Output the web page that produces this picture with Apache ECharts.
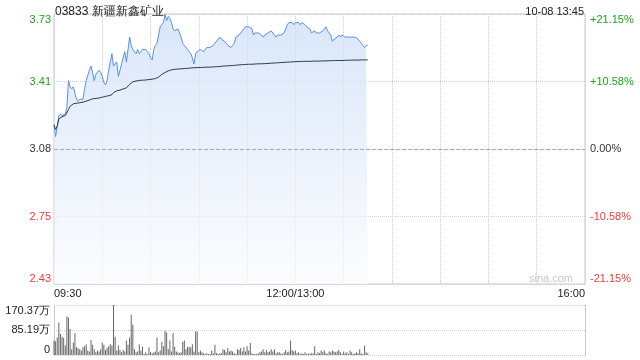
<!DOCTYPE html>
<html>
<head>
<meta charset="utf-8">
<script src="https://cdn.jsdelivr.net/npm/echarts@6/dist/echarts.min.js"></script>
<style>html,body{margin:0;padding:0;background:#fff}#c{width:640px;height:360px}</style>
</head>
<body>
<div id="c"></div>
<script>
const titleText = '03833 新疆新鑫矿业';
const timeText = '10-08 13:45';
const prevClose = 3.08;
const limitPct = 0.2115;
const priceTicks = ['2.43', '2.75', '3.08', '3.41', '3.73'];
const pctTicks = ['-21.15%', '-10.58%', '0.00%', '+10.58%', '+21.15%'];
const timeLabels = ['09:30', '', '', '', '', '12:00/13:00', '', '', '', '', '', '16:00'];
const volTicks = ['0', '85.19万', '170.37万'];
const volMax = 170.37;

const prices = [
3.20,3.14,3.19,3.24,3.25,3.24,3.24,3.25,3.28,3.41,3.38,3.37,3.38,3.35,3.32,3.31,3.32,3.32,3.32,3.37,
3.41,3.41,3.46,3.48,3.45,3.41,3.44,3.45,3.46,3.45,3.43,3.40,3.39,3.41,3.46,3.50,3.54,3.48,3.49,3.50,
3.43,3.46,3.49,3.52,3.55,3.50,3.56,3.62,3.58,3.56,3.55,3.54,3.56,3.54,3.55,3.56,3.56,3.56,3.55,3.54,
3.52,3.51,3.56,3.58,3.59,3.63,3.67,3.68,3.69,3.73,3.70,3.72,3.71,3.69,3.66,3.65,3.65,3.66,3.66,3.62,
3.59,3.58,3.57,3.56,3.55,3.54,3.52,3.49,3.54,3.55,3.55,3.56,3.56,3.55,3.56,3.57,3.57,3.57,3.57,3.58,
3.59,3.59,3.61,3.62,3.61,3.61,3.60,3.59,3.58,3.58,3.57,3.58,3.59,3.62,3.62,3.63,3.64,3.65,3.66,3.67,
3.67,3.67,3.67,3.66,3.63,3.64,3.64,3.64,3.64,3.63,3.62,3.63,3.63,3.64,3.64,3.65,3.65,3.63,3.62,3.63,
3.63,3.63,3.63,3.64,3.66,3.68,3.69,3.69,3.69,3.68,3.69,3.69,3.69,3.68,3.69,3.69,3.68,3.67,3.67,3.66,
3.64,3.64,3.65,3.64,3.64,3.64,3.64,3.65,3.66,3.67,3.65,3.64,3.63,3.60,3.61,3.61,3.62,3.63,3.62,3.63,
3.63,3.62,3.62,3.62,3.62,3.62,3.62,3.62,3.62,3.61,3.60,3.59,3.58,3.57,3.58,3.58
];

const avgPrices = [
3.195,3.175,3.190,3.225,3.232,3.236,3.238,3.241,3.246,3.270,3.286,3.293,3.298,3.300,3.301,3.302,3.303,3.304,3.306,3.308,
3.311,3.313,3.316,3.319,3.322,3.323,3.324,3.325,3.326,3.328,3.330,3.332,3.334,3.336,3.337,3.338,3.342,3.352,3.359,3.361,
3.362,3.364,3.367,3.370,3.372,3.375,3.380,3.392,3.401,3.404,3.406,3.408,3.410,3.411,3.412,3.412,3.413,3.413,3.414,3.415,
3.416,3.417,3.418,3.420,3.423,3.427,3.433,3.440,3.445,3.449,3.453,3.457,3.460,3.462,3.463,3.464,3.465,3.466,3.467,3.467,
3.468,3.468,3.469,3.469,3.470,3.471,3.472,3.472,3.472,3.473,3.473,3.473,3.474,3.474,3.474,3.475,3.475,3.475,3.476,3.476,
3.477,3.477,3.478,3.478,3.479,3.480,3.480,3.481,3.481,3.482,3.482,3.483,3.483,3.484,3.485,3.486,3.486,3.487,3.487,3.488,
3.488,3.489,3.489,3.489,3.490,3.490,3.490,3.491,3.491,3.491,3.492,3.492,3.493,3.493,3.494,3.494,3.495,3.495,3.495,3.496,
3.496,3.497,3.497,3.498,3.498,3.499,3.500,3.500,3.501,3.501,3.502,3.502,3.502,3.502,3.503,3.503,3.503,3.503,3.503,3.503,
3.504,3.504,3.504,3.504,3.504,3.504,3.505,3.505,3.505,3.505,3.506,3.506,3.506,3.506,3.506,3.507,3.507,3.507,3.507,3.507,
3.508,3.508,3.508,3.508,3.508,3.509,3.509,3.509,3.509,3.509,3.509,3.510,3.510,3.510,3.510,3.510
];

const volumes = [
49,47,60,111,72,62,58,32,131,128,89,20,43,74,26,23,20,15,26,30,37,15,12,51,35,20,9,15,12,20,43,35,17,25,
30,37,32,170.37,62,15,32,17,9,17,12,49,35,60,137,103,20,9,12,37,15,28,3,9,3,26,9,6,9,
12,60,9,15,45,30,83,77,20,49,12,74,28,12,9,7,9,45,49,20,28,26,26,37,12,80,80,9,15,9,6,3,6,3,3,15,6,35,6,3,6,
6,20,17,9,24,12,15,12,6,3,20,17,24,12,26,12,30,15,41,6,3,3,3,6,9,12,20,9,17,9,12,
20,12,20,6,9,9,6,3,9,17,9,12,49,17,12,15,6,9,3,6,3,9,3,6,3,6,
6,30,3,9,6,15,
9,15,6,3,12,9,15,12,9,12,17,9,3,12,6,9,3,15,9,3,6,9,6,20,6,3,32,9,6
];

const yMin = +(prevClose * (1 - limitPct)).toFixed(4);
const yMax = +(prevClose * (1 + limitPct)).toFixed(4);
const yInt = (yMax - yMin) / 4;
const tickIdx = v => Math.round((v - yMin) / yInt);
const FONT = 'Arial, "Liberation Sans", sans-serif';
const GREEN = '#1ea51e', RED = '#f03a3a', DARK = '#333';
const colorFor = (v) => { const i = tickIdx(v); return i > 2 ? GREEN : (i < 2 ? RED : DARK); };

const chart = echarts.init(document.getElementById('c'), null, {renderer: 'canvas'});
chart.setOption({
  animation: false,
  backgroundColor: '#fff',
  textStyle: {fontFamily: FONT},
  title: [
    {text: titleText, left: 50, top: 1, textStyle: {fontSize: 12, fontWeight: 'normal', color: '#222', fontFamily: FONT}},
    {text: timeText, right: 51, top: 1, textStyle: {fontSize: 11, fontWeight: 'normal', color: '#222', fontFamily: FONT}}
  ],
  graphic: [
    {type: 'text', right: 67, top: 273, style: {text: 'sina.com', fill: '#c8c8c8', font: '11px ' + FONT}}
  ],
  grid: [
    {left: 54, right: 55, top: 14, height: 270, show: true, borderColor: '#c8c8c8', borderWidth: 1, backgroundColor: 'transparent'},
    {left: 54, right: 55, top: 305, height: 50}
  ],
  xAxis: [
    {type: 'value', gridIndex: 0, min: 0, max: 330, interval: 30,
     axisLine: {show: false}, axisTick: {show: false},
     splitLine: {show: true, lineStyle: {color: '#cfcfcf', type: 'dotted', width: 1}},
     axisLabel: {show: true, margin: 4, fontSize: 11, color: '#222', fontFamily: FONT,
       alignMinLabel: 'left', alignMaxLabel: 'right', showMinLabel: true, showMaxLabel: true,
       formatter: v => timeLabels[Math.round(v / 30)] || ''}},
    {type: 'value', gridIndex: 1, min: 0, max: 330, interval: 30,
     axisLine: {show: false}, axisTick: {show: false}, splitLine: {show: false}, axisLabel: {show: false}}
  ],
  yAxis: [
    {type: 'value', gridIndex: 0, min: yMin, max: yMax, interval: yInt, position: 'left',
     axisLine: {show: false}, axisTick: {show: false},
     splitLine: {show: true, lineStyle: {color: '#cfcfcf', type: 'dotted', width: 1}},
     axisLabel: {margin: 3, fontSize: 11, fontFamily: FONT, showMinLabel: true, showMaxLabel: true,
       verticalAlignMinLabel: 'bottom', verticalAlignMaxLabel: 'top',
       color: colorFor, formatter: v => priceTicks[tickIdx(v)]}},
    {type: 'value', gridIndex: 0, min: yMin, max: yMax, interval: yInt, position: 'right',
     axisLine: {show: false}, axisTick: {show: false}, splitLine: {show: false},
     axisLabel: {margin: 5, fontSize: 11, fontFamily: FONT, showMinLabel: true, showMaxLabel: true,
       verticalAlignMinLabel: 'bottom', verticalAlignMaxLabel: 'top',
       color: colorFor, formatter: v => pctTicks[tickIdx(v)]}},
    {type: 'value', gridIndex: 1, min: 0, max: volMax, interval: volMax / 2, position: 'left',
     axisLine: {show: true, lineStyle: {color: '#c8c8c8'}}, axisTick: {show: false},
     splitLine: {show: true, lineStyle: {color: '#cfcfcf', type: 'dotted', width: 1}},
     axisLabel: {margin: 4, fontSize: 11, color: '#222', fontFamily: FONT, showMinLabel: true, showMaxLabel: true,
       verticalAlignMinLabel: 'bottom', verticalAlignMaxLabel: 'top',
       formatter: v => volTicks[Math.round(v / (volMax / 2))]}},
    {type: 'value', gridIndex: 1, min: 0, max: volMax, interval: volMax / 2, position: 'right',
     axisLine: {show: true, lineStyle: {color: '#c8c8c8'}}, axisTick: {show: false},
     splitLine: {show: false}, axisLabel: {show: false}}
  ],
  series: [
    {type: 'line', xAxisIndex: 0, yAxisIndex: 0, data: prices.map((v, i) => [i, v]),
     symbol: 'none', smooth: false, lineStyle: {color: '#5690ee', width: 1},
     areaStyle: {origin: 'start', color: new echarts.graphic.LinearGradient(0, 0, 0, 1, [
       {offset: 0, color: '#c9dbf7'}, {offset: 0.5, color: '#e3ecfb'}, {offset: 1, color: '#fafcff'}])},
     markLine: {silent: true, symbol: ['none', 'none'], label: {show: false},
       lineStyle: {color: '#aaaaaa', type: 'dashed', width: 1}, data: [{yAxis: prevClose}]}},
    {type: 'line', xAxisIndex: 0, yAxisIndex: 0, data: avgPrices.map((v, i) => [i, v]),
     symbol: 'none', smooth: false, lineStyle: {color: '#2f3a4f', width: 1}},
    {type: 'bar', xAxisIndex: 1, yAxisIndex: 2, data: volumes.map((v, i) => [i, v]),
     barWidth: 1, itemStyle: {color: '#666666'}}
  ]
});
</script>
</body>
</html>
